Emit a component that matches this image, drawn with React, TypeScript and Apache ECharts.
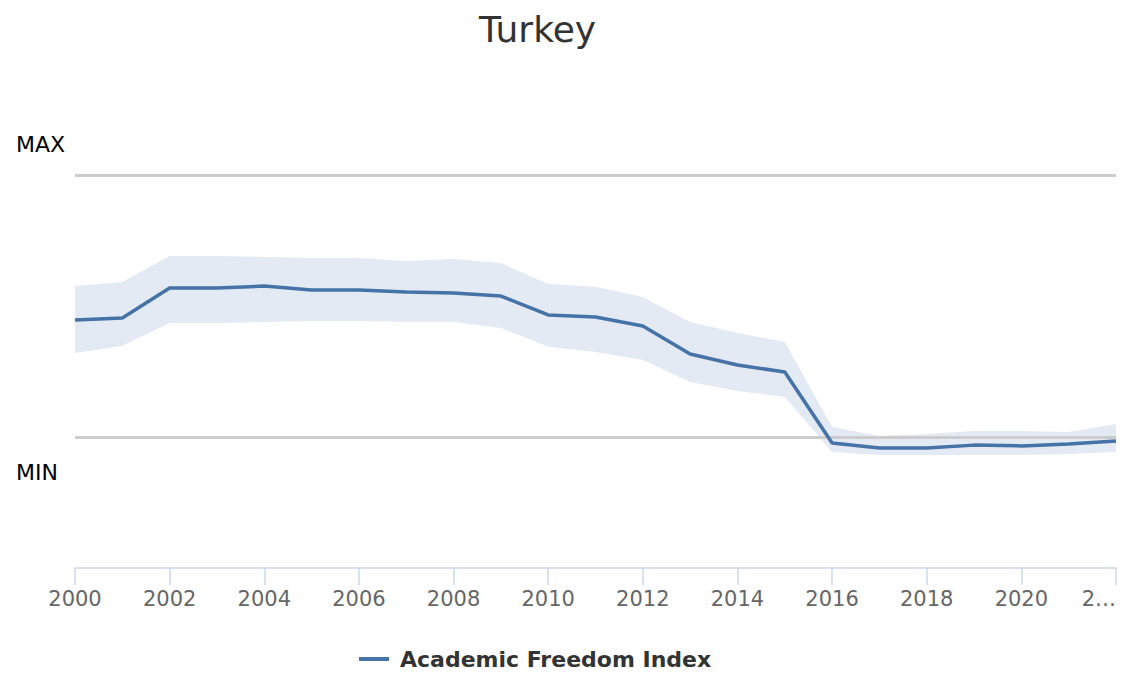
import React, { useEffect, useRef } from 'react';
import * as echarts from 'echarts';

// values on a MIN = 0 / MAX = 1 scale
const years = [
  '2000', '2001', '2002', '2003', '2004', '2005', '2006', '2007', '2008', '2009', '2010', '2011',
  '2012', '2013', '2014', '2015', '2016', '2017', '2018', '2019', '2020', '2021', '2022'
];
const indexValues = [
  0.447, 0.454, 0.569, 0.569, 0.576, 0.561, 0.561, 0.553, 0.550, 0.538, 0.466, 0.458,
  0.424, 0.317, 0.275, 0.248, -0.023, -0.042, -0.042, -0.031, -0.034, -0.027, -0.015
];
const upperValues = [
  0.576, 0.592, 0.691, 0.691, 0.687, 0.683, 0.683, 0.672, 0.679, 0.664, 0.584, 0.573,
  0.534, 0.439, 0.397, 0.363, 0.038, 0.004, 0.011, 0.023, 0.023, 0.019, 0.050
];
const lowerValues = [
  0.321, 0.347, 0.435, 0.435, 0.439, 0.443, 0.443, 0.439, 0.439, 0.416, 0.344, 0.324,
  0.294, 0.210, 0.176, 0.153, -0.057, -0.069, -0.069, -0.069, -0.069, -0.065, -0.057
];
const maxLevel = 1;
const minLevel = 0;

const FONT = '"DejaVu Sans", sans-serif';

const App: React.FC = () => {
  const chartRef = useRef<HTMLDivElement>(null);

  useEffect(() => {
    if (!chartRef.current) return;
    const chart = echarts.init(chartRef.current, null, { renderer: 'svg' });

    const bandWidth = upperValues.map((u, i) => +(u - lowerValues[i]).toFixed(3));

    chart.setOption({
      animation: false,
      backgroundColor: '#ffffff',
      textStyle: { fontFamily: FONT },
      title: {
        text: 'Turkey',
        left: 474,
        top: 6,
        textStyle: { fontSize: 36, fontWeight: 'normal', color: '#333333', fontFamily: FONT }
      },
      legend: {
        data: ['Academic Freedom Index'],
        top: 646,
        left: 357,
        padding: 2,
        icon: 'rect',
        itemWidth: 30,
        itemHeight: 4,
        itemGap: 10,
        textStyle: { fontSize: 22, fontWeight: 'bold', color: '#333333', fontFamily: FONT, padding: [0, 0, 0, 6] }
      },
      grid: { left: 75, right: 5, top: 44, bottom: 105 },
      xAxis: {
        type: 'category',
        data: years,
        boundaryGap: false,
        axisLine: { onZero: false, lineStyle: { color: '#ccd6eb', width: 1.5 } },
        axisTick: { interval: 1, length: 17, lineStyle: { color: '#ccd6eb', width: 1.5 } },
        axisLabel: {
          interval: 1,
          fontSize: 21,
          color: '#666666',
          margin: 20,
          alignMaxLabel: 'right',
          formatter: (v: string) => (v === '2022' ? '2…' : v)
        }
      },
      yAxis: {
        type: 'value',
        min: -0.5,
        max: 1.5,
        interval: 0.5,
        axisLine: { show: false },
        axisTick: { show: false },
        axisLabel: { show: false },
        splitLine: { show: false }
      },
      graphic: [
        {
          type: 'text',
          left: 16,
          top: 133,
          style: { text: 'MAX', fontSize: 22, fill: '#000000', fontFamily: FONT }
        },
        {
          type: 'text',
          left: 16,
          top: 461,
          style: { text: 'MIN', fontSize: 22, fill: '#000000', fontFamily: FONT }
        }
      ],
      series: [
        {
          name: 'lower',
          type: 'line',
          data: lowerValues,
          stack: 'band',
          stackStrategy: 'all',
          symbol: 'none',
          lineStyle: { opacity: 0 },
          silent: true
        },
        {
          name: 'band',
          type: 'line',
          data: bandWidth,
          stack: 'band',
          stackStrategy: 'all',
          symbol: 'none',
          lineStyle: { opacity: 0 },
          areaStyle: { color: '#e3eaf3', opacity: 1 },
          silent: true,
          markLine: {
            silent: true,
            symbol: 'none',
            label: { show: false },
            lineStyle: { color: '#cccccc', width: 3, type: 'solid' },
            data: [{ yAxis: maxLevel }, { yAxis: minLevel }]
          }
        },
        {
          name: 'Academic Freedom Index',
          type: 'line',
          data: indexValues,
          symbol: 'none',
          z: 5,
          lineStyle: { color: '#4572a7', width: 3.5 },
          itemStyle: { color: '#4572a7' }
        }
      ]
    });

    return () => {
      chart.dispose();
    };
  }, []);

  return (
    <div
      ref={chartRef}
      style={{ position: 'fixed', left: 0, top: 0, width: 1121, height: 673 }}
    />
  );
};

export default App;
